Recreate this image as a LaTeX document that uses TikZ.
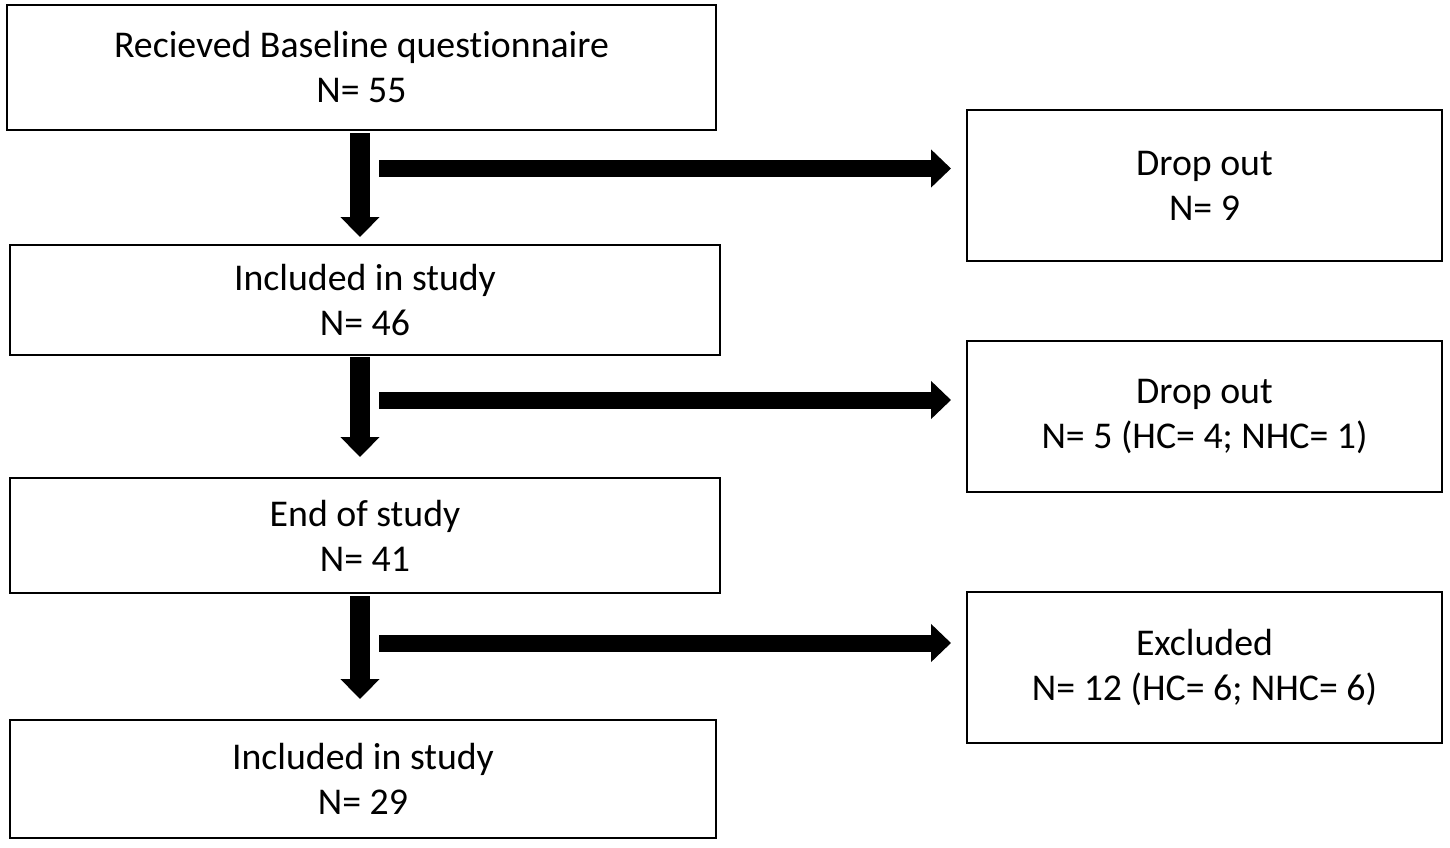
\documentclass[tikz,border=0pt]{standalone}
\usepackage{fontspec}
\setmainfont[Ligatures={NoCommon,NoRare}]{Carlito}
\usepackage{tikz}
\usetikzlibrary{arrows.meta}

\begin{document}
\begin{tikzpicture}[x=0.5pt,y=-0.5pt,
    box/.style={draw,line width=1pt,align=center,inner sep=0pt,
                font=\fontsize{18.9}{22.5}\selectfont},
    down/.style={line width=10pt,-{Triangle[width=19pt,length=10pt]}},
    side/.style={line width=8.5pt,-{Triangle[width=18.5pt,length=10pt]}}]
    \useasboundingbox (0,0) rectangle (1450,847);
    % left column
    \node[box,minimum width=354.5pt,minimum height=62.5pt] (base) at (361.5,67.5) {Recieved Baseline questionnaire\\N= 55};
    \node[box,minimum width=355pt,minimum height=55pt] (incl) at (365,300) {Included in study\\N= 46};
    \node[box,minimum width=355pt,minimum height=57.5pt] (end) at (365,535.5) {End of study\\N= 41};
    \node[box,minimum width=353pt,minimum height=59pt] (final) at (363,779) {Included in study\\N= 29};
    % right column
    \node[box,minimum width=237.5pt,minimum height=75.5pt] (drop1) at (1204.5,185.5) {Drop out\\N= 9};
    \node[box,minimum width=237.5pt,minimum height=75.5pt] (drop2) at (1204.5,416) {Drop out\\N= 5 (HC= 4; NHC= 1)};
    \node[box,minimum width=237.5pt,minimum height=75.5pt] (excl) at (1204.5,667.5) {Excluded\\N= 12 (HC= 6; NHC= 6)};
    % vertical arrows
    \coordinate (v1) at (360,130);
    \coordinate (v2) at (360,355);
    \coordinate (v3) at (360,593);
    \draw[down,shorten <=3pt/2,shorten >=3.5pt] (v1) -- (v1 |- incl.north);
    \draw[down,shorten <=1pt,shorten >=10pt] (v2) -- (v2 |- end.north);
    \draw[down,shorten <=1.5pt,shorten >=10pt] (v3) -- (v3 |- final.north);
    % side arrows
    \coordinate (h1) at (379,168.5);
    \coordinate (h2) at (379,400);
    \coordinate (h3) at (379,643);
    \draw[side,shorten >=7.5pt] (h1) -- (h1 -| drop1.west);
    \draw[side,shorten >=7.5pt] (h2) -- (h2 -| drop2.west);
    \draw[side,shorten >=7.5pt] (h3) -- (h3 -| excl.west);
\end{tikzpicture}
\end{document}
